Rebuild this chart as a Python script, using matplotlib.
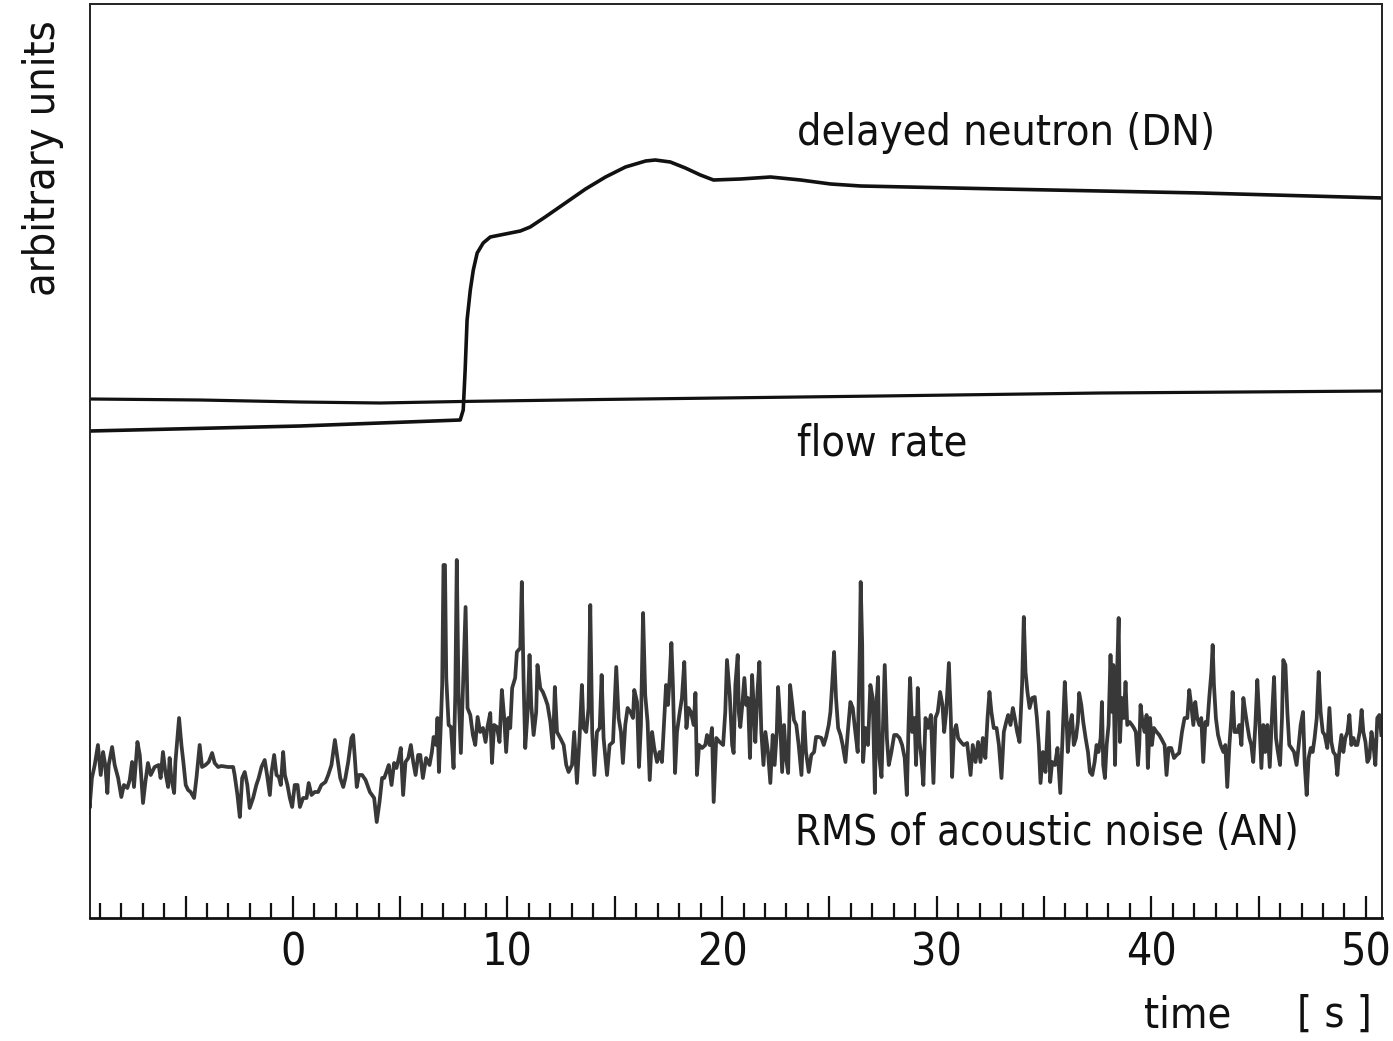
import matplotlib
matplotlib.use("Agg")
import matplotlib.pyplot as plt
from matplotlib.ticker import MultipleLocator

# ---------------- data (time in s, signal in arbitrary units) ----------------
flow_time = [-9.45, -4.32, 0.34, 4.07, 7.80, 14.33, 27.38, 37.64, 50.78]
flow_value = [51.9, 51.8, 51.6, 51.5, 51.65, 51.85, 52.2, 52.5, 52.7]

dn_time = [-9.45, 0.34, 7.80, 7.94, 8.03, 8.12, 8.27, 8.41, 8.59, 8.87, 9.20, 9.90,
           10.60, 11.06, 11.76, 12.70, 13.64, 14.57, 15.50, 16.44, 16.89, 17.59,
           18.29, 18.99, 19.60, 20.86, 22.26, 23.66, 25.06, 26.46, 32.99, 42.30, 50.78]
dn_value = [48.7, 49.2, 49.8, 50.8, 54.8, 59.8, 62.8, 64.8, 66.5, 67.5, 68.1, 68.4,
            68.7, 69.1, 70.1, 71.5, 72.9, 74.1, 75.1, 75.7, 75.8, 75.6,
            75.0, 74.3, 73.8, 73.9, 74.1, 73.8, 73.4, 73.2, 72.9, 72.5, 72.0]

an_time = [
    -9.54, -9.47, -9.36, -9.23, -9.08, -8.95, -8.84, -8.74, -8.64, -8.58, -8.42, -8.30,
    -8.14, -7.99, -7.87, -7.71, -7.60, -7.49, -7.40, -7.24, -7.13, -7.06, -6.98, -6.87,
    -6.75, -6.62, -6.44, -6.25, -6.16, -6.05, -5.94, -5.81, -5.74, -5.66, -5.53, -5.47,
    -5.38, -5.30, -5.19, -5.10, -4.99, -4.88, -4.76, -4.60, -4.49, -4.34, -4.23, -4.07,
    -3.92, -3.76, -3.64, -3.48, -3.33, -3.02, -2.78, -2.71, -2.58, -2.47, -2.36, -2.24,
    -2.12, -2.01, -1.85, -1.70, -1.59, -1.46, -1.31, -1.20, -1.07, -0.99, -0.87, -0.76,
    -0.65, -0.56, -0.45, -0.37, -0.25, -0.14, -0.03, 0.09, 0.22, 0.33, 0.48, 0.64,
    0.74, 0.87, 1.02, 1.18, 1.33, 1.52, 1.65, 1.80, 1.96, 2.08, 2.21, 2.35,
    2.45, 2.58, 2.73, 2.81, 2.89, 2.98, 3.08, 3.23, 3.39, 3.59, 3.79, 3.91,
    4.04, 4.16, 4.26, 4.36, 4.47, 4.60, 4.72, 4.83, 4.94, 5.03, 5.14, 5.25,
    5.38, 5.50, 5.61, 5.72, 5.84,
    5.94, 6.06, 6.21, 6.37, 6.48, 6.56, 6.68, 6.74, 6.81, 6.90, 6.96, 7.02,
    7.09, 7.15, 7.26, 7.37, 7.49, 7.57, 7.64, 7.72, 7.83, 7.92, 8.05, 8.14,
    8.27, 8.39, 8.50, 8.61, 8.73, 8.86, 8.98, 9.07, 9.20, 9.28, 9.38, 9.51,
    9.63, 9.74, 9.85, 9.94, 10.04, 10.13, 10.22, 10.36, 10.44, 10.60, 10.67, 10.75,
    10.83, 10.94, 11.03, 11.11, 11.22, 11.34, 11.40, 11.53, 11.65, 11.76, 11.87, 12.00,
    12.12, 12.21, 12.31, 12.46, 12.62, 12.74, 12.85, 13.01, 13.11, 13.24, 13.36, 13.47,
    13.55, 13.67, 13.78, 13.86, 13.95, 14.05, 14.17, 14.30, 14.39, 14.48, 14.64, 14.76,
    14.92, 15.07, 15.18, 15.29, 15.38, 15.49, 15.60, 15.73, 15.85, 15.91, 16.04, 16.13,
    16.22, 16.32, 16.42, 16.53, 16.63, 16.74, 16.84, 16.97, 17.09, 17.20, 17.31, 17.39,
    17.48, 17.56, 17.64, 17.71, 17.81, 17.90, 18.03, 18.13, 18.24, 18.34, 18.44, 18.55,
    18.68, 18.76, 18.83, 18.93, 19.07, 19.22, 19.30, 19.42, 19.53, 19.61, 19.73, 19.89,
    20.05, 20.15, 20.23, 20.36, 20.47, 20.54, 20.62, 20.73,
    20.78, 20.85, 20.93, 21.04, 21.12, 21.21, 21.30, 21.40, 21.47, 21.55, 21.65, 21.74,
    21.83, 21.93, 22.02, 22.14, 22.25, 22.36, 22.45, 22.55, 22.61, 22.70, 22.80, 22.89,
    22.98, 23.08, 23.17, 23.26, 23.35, 23.46, 23.57, 23.70, 23.81, 23.91, 24.04, 24.16,
    24.29, 24.38, 24.50, 24.63, 24.74, 24.85, 24.97, 25.05, 25.13, 25.22, 25.31, 25.41,
    25.52, 25.62, 25.75, 25.86, 25.98, 26.09, 26.21, 26.32, 26.42, 26.46, 26.53, 26.57,
    26.68, 26.80, 26.91, 27.02, 27.12, 27.19, 27.27, 27.33, 27.43, 27.52, 27.58, 27.68,
    27.77, 27.89, 28.02, 28.14, 28.27, 28.39, 28.51, 28.61, 28.69, 28.76, 28.86, 28.97,
    29.04, 29.12, 29.20, 29.29, 29.38, 29.48, 29.60, 29.73, 29.85, 29.94, 30.05, 30.16,
    30.27, 30.35, 30.44, 30.57, 30.66, 30.72, 30.81, 30.91, 31.00, 31.13, 31.26, 31.42,
    31.58, 31.68, 31.81, 31.93, 32.04, 32.15, 32.27, 32.37, 32.46, 32.55, 32.66, 32.79,
    32.90, 33.02, 33.13, 33.24, 33.33, 33.44, 33.55, 33.64, 33.75, 33.86, 33.98, 34.06,
    34.14, 34.23, 34.33, 34.45, 34.57, 34.67, 34.76, 34.84, 34.95, 35.07, 35.20, 35.29,
    35.38, 35.51, 35.63, 35.76, 35.85, 35.97,
    36.05, 36.11, 36.21, 36.30, 36.39, 36.49, 36.58, 36.64, 36.74, 36.83, 36.94, 37.05,
    37.14, 37.25, 37.36, 37.45, 37.54, 37.64, 37.70, 37.76, 37.84, 37.92, 38.01, 38.10,
    38.18, 38.23, 38.31, 38.38, 38.48, 38.54, 38.63, 38.72, 38.80, 38.88, 38.99, 39.10,
    39.19, 39.28, 39.38, 39.44, 39.50, 39.59, 39.69, 39.78, 39.84, 39.94, 40.03, 40.12,
    40.25, 40.37, 40.50, 40.62, 40.71, 40.81, 40.93, 41.06, 41.18, 41.30, 41.43, 41.55,
    41.68, 41.77, 41.86, 41.96, 42.05, 42.14, 42.24, 42.33, 42.42, 42.52, 42.61, 42.70,
    42.80, 42.86, 42.92, 43.01, 43.11, 43.23, 43.36, 43.45, 43.54, 43.64, 43.73, 43.79,
    43.88, 44.01, 44.10, 44.20, 44.29, 44.38, 44.47, 44.57, 44.66, 44.75, 44.85, 44.94,
    45.03, 45.13, 45.22, 45.31, 45.41, 45.52, 45.62, 45.72, 45.81, 45.90, 46.00, 46.09,
    46.15, 46.25, 46.34, 46.43, 46.53, 46.65, 46.77, 46.87, 46.96, 47.07, 47.15, 47.24,
    47.33, 47.43, 47.52, 47.61, 47.71, 47.80, 47.89, 47.99, 48.08, 48.20, 48.30, 48.39,
    48.48, 48.58, 48.67, 48.76, 48.86, 48.95, 49.04, 49.14, 49.23, 49.32, 49.42, 49.51,
    49.60, 49.71, 49.80, 49.88, 49.98, 50.07, 50.16, 50.26, 50.35, 50.44, 50.53, 50.63,
    50.72,
]
an_value = [
    14.3, 11.0, 14.0, 15.3, 17.3, 14.3, 16.6, 15.3, 12.5, 15.3, 17.1, 15.3,
    14.0, 12.1, 13.3, 13.0, 13.8, 15.6, 13.1, 17.6, 16.3, 14.0, 11.5, 13.6,
    15.5, 14.3, 15.1, 15.3, 14.0, 16.6, 14.6, 13.1, 16.0, 14.0, 12.5, 15.6,
    18.0, 20.0, 17.3, 15.6, 13.3, 12.8, 12.6, 12.0, 14.0, 17.3, 15.1, 15.3,
    15.6, 16.5, 15.5, 15.1, 15.2, 15.1, 15.1, 14.3, 12.3, 10.1, 14.0, 14.6,
    13.3, 11.0, 12.0, 13.3, 14.0, 15.1, 15.8, 14.3, 12.3, 14.6, 16.3, 14.3,
    14.1, 13.3, 16.6, 14.3, 13.3, 12.0, 11.1, 13.3, 13.3, 11.1, 12.0, 12.0,
    13.5, 12.3, 12.6, 12.6, 13.3, 13.6, 14.3, 15.3, 17.8, 16.0, 14.0, 13.1,
    14.0, 15.6, 18.0, 18.3, 16.0, 13.1, 14.3, 14.3, 13.8, 12.6, 12.0, 9.6,
    11.6, 14.0, 14.0, 14.6, 15.3, 13.3, 15.5, 15.0, 16.0, 17.0, 12.3, 15.6,
    16.0, 17.3, 15.6, 14.3, 16.3,
    16.3, 14.0, 16.0, 15.3, 16.6, 18.1, 17.3, 20.0, 14.6, 19.6, 23.3, 35.3,
    35.3, 24.0, 19.3, 19.1, 15.0, 22.3, 35.8, 22.6, 16.5, 22.6, 31.1, 21.0,
    20.3, 18.3, 17.3, 20.1, 18.6, 19.0, 17.6, 19.1, 20.5, 15.5, 19.3, 19.1,
    17.6, 22.8, 20.0, 16.6, 20.0, 19.0, 23.0, 24.0, 26.6, 27.0, 33.6, 24.0,
    17.0, 20.6, 26.3, 21.3, 18.3, 20.6, 25.3, 23.0, 22.6, 22.0, 21.3, 19.6,
    17.0, 23.1, 18.6, 18.0, 17.3, 15.3, 14.6, 15.3, 18.6, 13.5, 18.0, 23.3,
    19.0, 18.6, 21.0, 31.3, 18.6, 14.3, 18.6, 19.0, 24.3, 18.0, 14.3, 17.3,
    17.6, 25.1, 20.0, 18.6, 15.5, 19.3, 21.0, 20.6, 20.0, 22.8, 21.6, 15.1,
    19.3, 30.5, 22.3, 19.6, 13.8, 18.6, 17.0, 15.6, 16.6, 15.6, 20.0, 23.3,
    21.3, 24.0, 27.5, 23.3, 14.5, 18.6, 20.6, 22.0, 25.6, 19.0, 21.0, 20.6,
    19.3, 22.5, 14.3, 17.3, 17.0, 17.3, 18.3, 17.3, 19.0, 11.6, 18.0, 17.6,
    17.3, 20.6, 25.8, 22.3, 17.3, 16.5, 23.3, 26.3,
    20.6, 19.1, 21.0, 24.0, 21.3, 22.0, 16.0, 24.3, 21.3, 17.6, 22.6, 25.6,
    18.6, 15.3, 18.6, 16.6, 13.5, 18.3, 15.3, 18.6, 23.1, 20.0, 14.6, 19.3,
    16.0, 14.5, 23.3, 21.6, 19.8, 19.3, 17.3, 14.3, 20.6, 16.6, 14.6, 16.3,
    16.6, 18.1, 18.1, 18.0, 17.3, 18.1, 19.3, 20.6, 23.3, 26.6, 22.0, 19.0,
    18.3, 17.3, 15.6, 18.6, 21.6, 21.0, 18.6, 16.6, 27.3, 33.6, 27.3, 15.6,
    19.0, 17.3, 23.3, 22.0, 12.5, 21.3, 24.1, 16.0, 14.1, 20.6, 25.3, 18.0,
    15.3, 16.6, 18.3, 18.3, 18.0, 17.3, 16.0, 12.3, 19.3, 24.0, 18.6, 20.0,
    15.3, 23.0, 17.6, 16.0, 13.3, 20.0, 19.0, 20.3, 13.5, 20.0, 20.6, 22.6,
    21.3, 18.6, 20.5, 25.5, 20.0, 14.1, 18.6, 19.3, 18.0, 17.6, 17.3, 17.5,
    14.3, 17.3, 15.6, 17.6, 15.6, 18.0, 16.0, 20.0, 22.6, 20.6, 19.0, 19.0,
    17.3, 14.0, 18.6, 19.6, 20.3, 19.3, 21.0, 20.0, 18.6, 17.6, 23.3, 30.1,
    24.6, 22.6, 21.0, 22.0, 22.1, 20.0, 17.3, 13.5, 16.6, 14.6, 20.6, 13.6,
    15.6, 15.3, 17.0, 12.5, 17.3, 23.6,
    20.0, 16.6, 19.3, 20.3, 17.3, 18.0, 19.6, 22.5, 21.3, 19.6, 18.0, 16.6,
    14.6, 14.3, 15.6, 17.3, 16.6, 18.0, 21.6, 15.3, 14.0, 17.3, 19.3, 26.3,
    20.6, 25.3, 15.3, 22.6, 30.0, 17.6, 22.0, 20.0, 23.6, 19.3, 19.6, 19.3,
    19.0, 18.6, 15.3, 17.3, 21.3, 19.6, 18.6, 20.3, 15.0, 20.0, 17.3, 19.0,
    18.6, 18.3, 17.8, 17.3, 14.3, 17.0, 17.0, 16.0, 16.3, 16.5, 18.6, 20.0,
    20.0, 22.8, 21.3, 19.3, 21.6, 20.0, 19.3, 20.0, 15.6, 19.6, 19.3, 22.0,
    24.6, 27.3, 23.3, 20.0, 18.3, 17.3, 16.6, 17.3, 13.1, 17.3, 20.0, 22.6,
    18.6, 18.6, 19.3, 17.3, 22.0, 20.6, 19.3, 18.0, 17.3, 15.6, 19.3, 23.8,
    20.0, 15.0, 19.3, 16.6, 19.3, 15.1, 20.0, 24.1, 18.0, 16.6, 15.3, 20.0,
    25.8, 25.3, 20.6, 17.3, 17.0, 16.6, 15.3, 17.3, 19.3, 20.6, 15.3, 12.3,
    16.0, 17.0, 16.6, 18.0, 20.0, 24.6, 20.6, 18.6, 18.3, 17.0, 21.0, 17.6,
    16.6, 16.3, 14.3, 16.6, 18.3, 16.6, 18.0, 18.6, 20.3, 17.3, 18.0, 17.3,
    17.3, 18.6, 20.8, 18.6, 17.6, 15.6, 16.0, 18.6, 17.3, 15.3, 20.0, 20.3,
    18.3,
]

tick_values = [0, 10, 20, 30, 40, 50]
tick_labels = ["0", "10", "20", "30", "40", "50"]

# ---------------- figure ----------------
W, H = 1393, 1041
fig = plt.figure(figsize=(W / 100, H / 100), dpi=100)
fig.patch.set_facecolor("white")
font = ["DejaVu Sans"]
stretch = "condensed"

ax = fig.add_axes([90 / W, 1 - 918 / H, (1382 - 90) / W, (918 - 4) / H])
ax.set_xlim(-9.45, 50.75)
ax.set_ylim(0, 91.4)

ax.plot(flow_time, flow_value, color="#111111", lw=2.3, solid_capstyle="butt")
ax.plot(dn_time, dn_value, color="#111111", lw=2.6, solid_joinstyle="round")
ax.plot(an_time, an_value, color="#383838", lw=2.7, solid_joinstyle="round")

# axes frame and ticks
for side in ["top", "left", "right"]:
    ax.spines[side].set_linewidth(1.4)
    ax.spines[side].set_color("#222222")
ax.spines["bottom"].set_linewidth(2.0)
ax.spines["bottom"].set_color("#111111")

major = [v for v in range(-5, 51, 5)]
ax.set_xticks(major)
ax.set_xticklabels([tick_labels[tick_values.index(v)] if v in tick_values else ""
                    for v in major])
ax.xaxis.set_minor_locator(MultipleLocator(1))
ax.tick_params(axis="x", which="major", direction="in", length=16, width=1.6,
               color="#111111", pad=10, labelsize=32)
ax.tick_params(axis="x", which="minor", direction="in", length=10.5, width=1.6,
               color="#111111")
for lab in ax.get_xticklabels():
    lab.set_family(font)
    lab.set_stretch(stretch)
    lab.set_color("#111111")
ax.set_yticks([])

tx = dict(family=font, stretch=stretch, color="#111111", fontsize=31)
fig.text(797 / W, 1 - 133 / H, "delayed neutron (DN)", ha="left", va="center", **tx)
fig.text(797 / W, 1 - 443 / H, "flow rate", ha="left", va="center", **tx)
fig.text(795 / W, 1 - 833 / H, "RMS of acoustic noise (AN)", ha="left", va="center",
         **dict(tx, fontsize=30))
fig.text(43 / W, 1 - 158 / H, "arbitrary units", ha="center", va="center",
         rotation=90, **tx)
fig.text(1188 / W, 1 - 1015 / H, "time", ha="center", va="center", **tx)
fig.text(1334 / W, 1 - 1015 / H, "[ s ]", ha="center", va="center", **tx)

fig.savefig("out.png", dpi=100, facecolor="white")
